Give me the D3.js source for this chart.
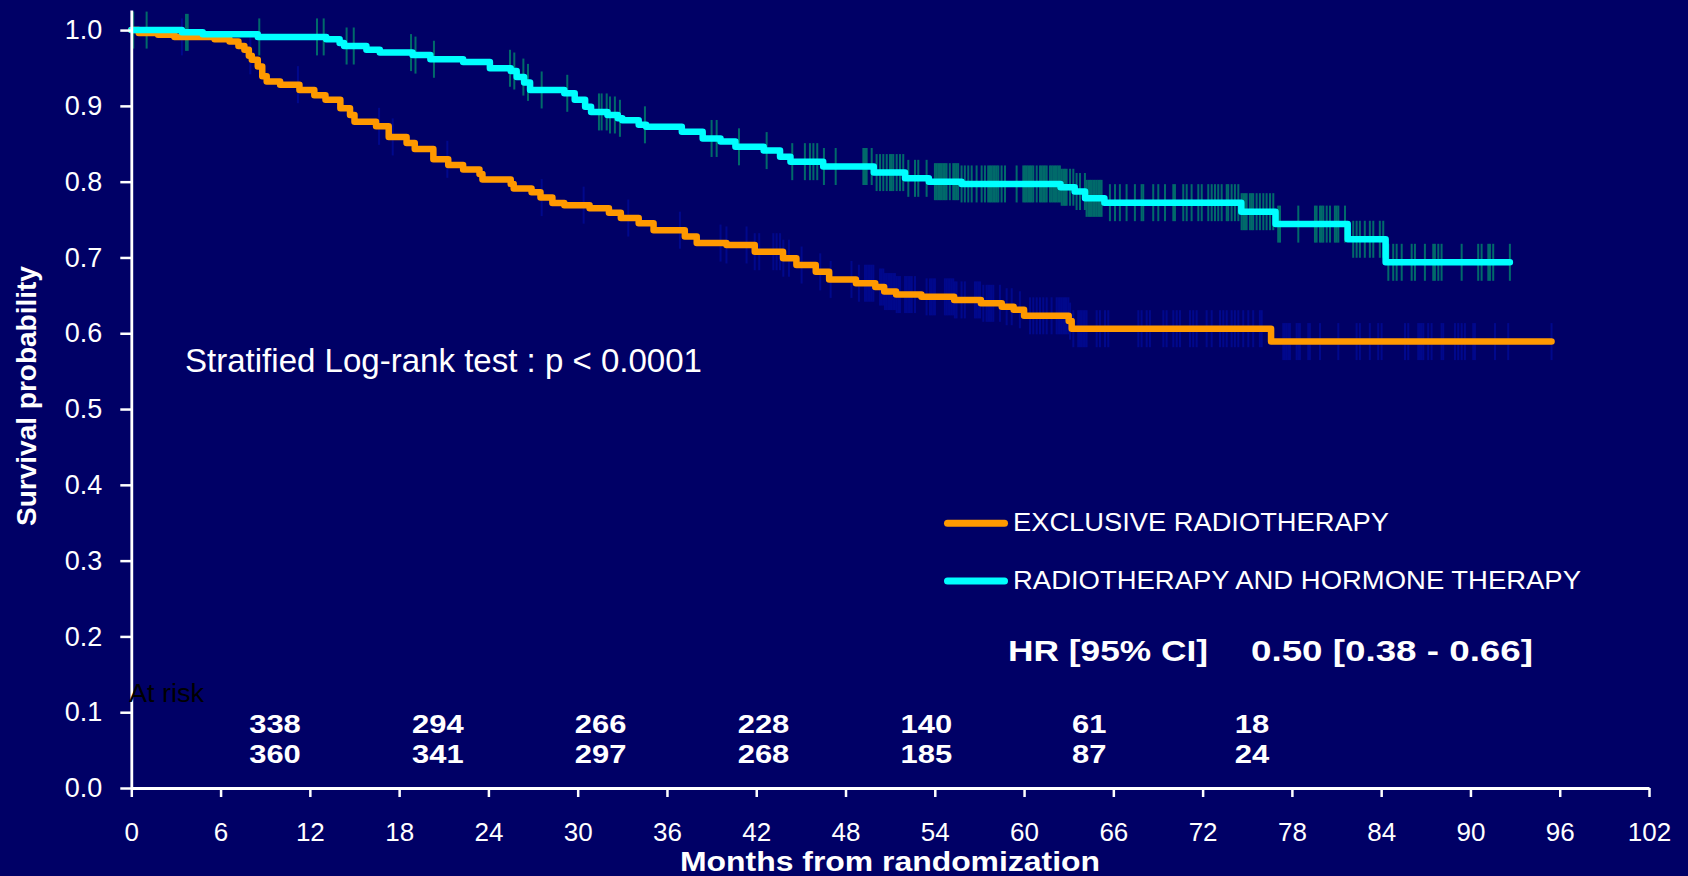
<!DOCTYPE html>
<html>
<head>
<meta charset="utf-8">
<script src="https://cdn.jsdelivr.net/npm/d3@7"></script>
<style>
  html, body { margin: 0; padding: 0; background: #000066; }
  svg { display: block; }
  text { font-family: "Liberation Sans", Arial, sans-serif; }
</style>
</head>
<body>
<svg id="chart" width="1688" height="876"></svg>
<script>
// Kaplan-Meier step points [month, survival] for each arm
const exclusiveSteps = [
  [0, 1.0], [0.5, 0.996], [1.8, 0.994], [2.9, 0.991], [5.6, 0.988], [6.6, 0.985],
  [7.2, 0.979], [7.6, 0.974], [7.9, 0.966], [8.1, 0.961], [8.5, 0.952], [8.8, 0.939],
  [9.1, 0.932], [10.0, 0.928], [11.3, 0.921], [12.3, 0.914], [13.05, 0.908], [14.05, 0.897],
  [14.7, 0.888], [15.0, 0.879], [16.45, 0.873], [17.3, 0.859], [18.5, 0.851], [19.05, 0.843],
  [20.3, 0.8295], [21.3, 0.822], [22.3, 0.816], [23.4, 0.810], [23.6, 0.803], [25.5, 0.797],
  [25.7, 0.791], [26.9, 0.786], [27.5, 0.779], [28.3, 0.772], [29.1, 0.769], [30.8, 0.765],
  [32.1, 0.759], [32.9, 0.752], [34.1, 0.745], [35.1, 0.736], [37.2, 0.7275], [38.0, 0.719],
  [40.0, 0.7165], [41.9, 0.7076], [43.8, 0.699], [44.7, 0.690], [46.0, 0.681], [46.9, 0.671],
  [48.7, 0.666], [50.0, 0.661], [50.6, 0.655], [51.4, 0.651], [53.1, 0.648], [55.3, 0.644],
  [57.1, 0.6395], [58.5, 0.635], [59.3, 0.631], [60.0, 0.623], [63.0, 0.616], [63.2, 0.606],
  [76.6, 0.589], [95.45, 0.589]
];
const combinedSteps = [
  [0, 1.0], [3.4, 0.997], [4.8, 0.9946], [8.5, 0.991], [13.1, 0.988], [14.0, 0.983],
  [14.3, 0.979], [15.8, 0.974], [16.7, 0.9703], [18.9, 0.967], [20.1, 0.9615], [22.3, 0.958],
  [24.1, 0.9496], [25.5, 0.946], [25.9, 0.938], [26.4, 0.931], [26.8, 0.921], [29.1, 0.9166],
  [29.8, 0.908], [30.5, 0.899], [30.9, 0.892], [32.0, 0.888], [32.7, 0.8836], [33.0, 0.881],
  [34.1, 0.875], [34.6, 0.8726], [37.0, 0.866], [38.4, 0.857], [39.6, 0.853], [40.6, 0.846],
  [42.5, 0.841], [43.6, 0.833], [44.3, 0.8264], [46.5, 0.820], [49.9, 0.812], [52.0, 0.8044],
  [53.6, 0.800], [55.8, 0.797], [62.45, 0.7926], [63.4, 0.787], [64.1, 0.778], [65.4, 0.7723],
  [74.6, 0.7604], [76.9, 0.744], [81.75, 0.724], [84.3, 0.6936], [92.65, 0.6936]
];

// Censoring times (months)
const exclusiveCensored = [
  3.4, 8.0, 11.2, 16.65, 17.57, 21.24, 27.58, 30.4, 33.4, 36.87, 39.6, 40.0, 41.35, 41.9, 42.2,
  43.15, 43.37, 43.6, 43.82, 44.2, 45.05, 46.3, 47.0, 48.4, 48.9,
  49.31, 49.42, 49.53, 49.64, 49.76, 49.87, 50.32, 50.43, 50.54, 50.65, 50.77, 50.88, 50.99,
  51.1, 51.21, 51.32, 51.44, 51.55, 51.66, 52.0, 52.11, 52.22, 52.33, 52.45, 52.67, 53.45,
  53.68, 53.79, 53.9, 54.01, 54.68, 54.79, 54.9, 55.01, 55.13, 55.24, 55.35, 55.46, 55.8, 56.02,
  56.7, 56.81, 56.92, 57.04, 57.26, 57.48, 57.59, 57.71, 57.82, 57.93, 58.38, 58.83, 59.17, 59.72,
  60.4, 60.62, 60.85, 61.07, 61.29, 61.52, 61.85, 62.19, 62.3, 62.41, 62.53, 62.64, 62.75, 62.86,
  62.98, 63.09, 63.31, 63.64, 63.76, 63.87, 63.98, 64.09, 64.2, 64.88, 65.1, 65.44, 65.66,
  67.68, 67.9, 68.24, 68.46, 69.36, 69.58, 70.03, 70.26, 70.48, 71.15, 71.37, 71.6,
  72.27, 72.61, 73.17, 73.39, 73.62, 73.95, 74.17, 74.4, 74.73, 75.07, 75.4, 75.85, 75.97,
  77.42, 77.53, 77.64, 77.76, 77.87, 78.32, 78.43, 78.54, 79.1, 79.21, 79.89, 81.12, 82.35, 82.57,
  83.24, 83.8, 84.03, 85.6, 85.82, 86.49, 86.61, 86.72, 86.83, 87.16, 87.39, 88.06, 88.17,
  88.96, 89.18, 89.41, 89.63, 90.19, 90.3, 91.65, 92.54, 95.45
];
const combinedCensored = [
  0.13, 1.03, 3.68, 3.79, 8.6, 12.48, 12.93, 14.47, 14.95, 18.8, 19.1, 20.34, 25.45, 25.74,
  26.35, 26.66, 27.58, 29.3, 31.43, 31.61, 31.95, 32.17, 32.5, 32.84, 34.52, 39.0, 39.34, 40.84,
  42.7, 44.42, 45.27, 45.61, 45.84, 46.1, 46.55, 47.34,
  49.2, 49.31, 49.42, 49.76, 50.09, 50.32, 50.54, 50.77, 50.99, 51.1, 51.21, 51.44, 51.66, 51.88,
  52.22, 52.67, 52.89, 53.45, 54.01, 54.12, 54.23, 54.35, 54.46, 54.57, 54.68, 54.79, 55.01,
  55.24, 55.35, 55.46, 55.57, 55.8, 56.02, 56.25, 56.48, 56.81, 57.15, 57.37, 57.59, 57.71,
  57.82, 57.93, 58.04, 58.16, 58.27, 58.49, 58.72, 59.5, 59.95, 60.06, 60.17, 60.28, 60.4,
  60.51, 60.62, 60.85, 61.07, 61.18, 61.29, 61.4, 61.52, 61.74, 61.85, 61.96, 62.08, 62.19,
  62.3, 62.41, 62.53, 62.64, 62.75, 62.86, 63.09, 63.31, 63.53, 63.76, 64.09, 64.2, 64.32,
  64.43, 64.54, 64.65, 64.76, 64.88, 64.99, 65.1, 65.21, 65.77, 66.11, 66.44, 66.89, 67.45,
  67.9, 68.01, 68.68, 69.02, 69.47, 70.03, 70.14, 70.7, 70.93, 71.26, 71.71, 71.94, 72.38,
  72.61, 72.83, 73.05, 73.28, 73.62, 73.72, 73.95, 74.17, 74.4, 74.62, 74.73, 74.85, 74.96,
  75.18, 75.3, 75.4, 75.63, 75.85, 76.08, 76.3, 76.53, 76.75, 77.08, 77.2, 78.43, 79.55, 79.66,
  79.89, 80.0, 80.11, 80.34, 80.56, 80.89, 81.0, 81.12, 81.57, 82.12, 82.35, 82.57, 82.9,
  83.24, 83.47, 83.91, 84.14, 84.48, 84.81, 85.04, 85.38, 86.05, 86.27, 86.94, 87.5, 87.61,
  87.84, 88.06, 89.41, 90.52, 90.75, 91.2, 91.31, 91.53, 92.65
];

// Axis ticks
const xTicks = [0, 6, 12, 18, 24, 30, 36, 42, 48, 54, 60, 66, 72, 78, 84, 90, 96, 102];
const yTicks = [0, 0.1, 0.2, 0.3, 0.4, 0.5, 0.6, 0.7, 0.8, 0.9, 1.0];

// Numbers at risk
const riskTimes = [12, 24, 36, 48, 60, 72, 84];
const riskExclusive = [338, 294, 266, 228, 140, 61, 18];
const riskCombined = [360, 341, 297, 268, 185, 87, 24];

const arms = [
  { name: "EXCLUSIVE RADIOTHERAPY", steps: exclusiveSteps, censored: exclusiveCensored,
    color: "#ff9900", tickColor: "#00088c" },
  { name: "RADIOTHERAPY AND HORMONE THERAPY", steps: combinedSteps, censored: combinedCensored,
    color: "#00ffff", tickColor: "#006a6a" }
];

const svg = d3.select("#chart");
const W = 1688, H = 876;
svg.append("rect").attr("width", W).attr("height", H).attr("fill", "#000066");

const x = d3.scaleLinear().domain([0, 102]).range([131.3, 1649]);
const y = d3.scaleLinear().domain([0, 1.0265]).range([788, 10]);

// survival value at time t for a step function
const bis = d3.bisector(d => d[0]).right;
function survAt(steps, t) {
  const i = bis(steps, t) - 1;
  return steps[Math.max(0, i)][1];
}

// censor marks behind curves
arms.forEach(arm => {
  svg.append("g")
    .selectAll("line")
    .data(arm.censored)
    .join("line")
    .attr("x1", d => x(d)).attr("x2", d => x(d))
    .attr("y1", d => y(survAt(arm.steps, d)) - 18.5)
    .attr("y2", d => y(survAt(arm.steps, d)) + 18.5)
    .attr("stroke", arm.tickColor)
    .attr("stroke-width", 2);
});

// survival curves
const line = d3.line().x(d => x(d[0])).y(d => y(d[1])).curve(d3.curveStepAfter);
arms.forEach(arm => {
  svg.append("path")
    .datum(arm.steps)
    .attr("d", line)
    .attr("fill", "none")
    .attr("stroke", arm.color)
    .attr("stroke-width", 6.5)
    .attr("stroke-linejoin", "round")
    .attr("stroke-linecap", "round");
});

// axes
const yAxis = d3.axisLeft(y).tickValues(yTicks).tickFormat(d3.format(".1f"))
  .tickSize(11).tickSizeOuter(0).tickPadding(18);
const gy = svg.append("g").attr("transform", `translate(${x(0)},0)`).call(yAxis);

const xAxis = d3.axisBottom(x).tickValues(xTicks).tickFormat(d3.format("d"))
  .tickSize(9).tickSizeOuter(0).tickPadding(26);
const gx = svg.append("g").attr("transform", `translate(0,${y(0)})`).call(xAxis);

[gy, gx].forEach(g => {
  g.select(".domain").attr("stroke", "#ffffff").attr("stroke-width", 2.8);
  g.selectAll(".tick line").attr("stroke", "#ffffff").attr("stroke-width", 2.5);
  g.selectAll(".tick text").attr("fill", "#ffffff")
    .attr("font-size", 27).attr("font-family", "Liberation Sans, Arial, sans-serif");
});
gx.selectAll(".tick text").attr("font-size", 26);

// axis titles
svg.append("text")
  .attr("transform", "translate(36,396) rotate(-90)")
  .attr("text-anchor", "middle")
  .attr("fill", "#ffffff").attr("font-size", 28).attr("font-weight", "bold")
  .text("Survival probability");

svg.append("text")
  .attr("x", 680).attr("y", 870.5)
  .attr("fill", "#ffffff").attr("font-size", 27).attr("font-weight", "bold")
  .attr("textLength", 420).attr("lengthAdjust", "spacingAndGlyphs")
  .text("Months from  randomization");

// test annotation
svg.append("text")
  .attr("x", 185).attr("y", 372)
  .attr("fill", "#ffffff").attr("font-size", 32.5)
  .attr("textLength", 517).attr("lengthAdjust", "spacingAndGlyphs")
  .text("Stratified Log-rank test : p < 0.0001");

// legend
const legendY = [523.3, 581];
const legendLen = [376, 568];
arms.forEach((arm, i) => {
  svg.append("line")
    .attr("x1", 947.5).attr("x2", 1004.5)
    .attr("y1", legendY[i]).attr("y2", legendY[i])
    .attr("stroke", arm.color).attr("stroke-width", 7).attr("stroke-linecap", "round");
  svg.append("text")
    .attr("x", 1013).attr("y", legendY[i] + 7.5)
    .attr("fill", "#ffffff").attr("font-size", 26)
    .attr("textLength", legendLen[i]).attr("lengthAdjust", "spacingAndGlyphs")
    .text(arm.name);
});

// hazard ratio
svg.append("text")
  .attr("x", 1008).attr("y", 661)
  .attr("fill", "#ffffff").attr("font-size", 30).attr("font-weight", "bold")
  .attr("textLength", 200).attr("lengthAdjust", "spacingAndGlyphs")
  .text("HR [95% CI]");
svg.append("text")
  .attr("x", 1251).attr("y", 661)
  .attr("fill", "#ffffff").attr("font-size", 30).attr("font-weight", "bold")
  .attr("textLength", 282).attr("lengthAdjust", "spacingAndGlyphs")
  .text("0.50 [0.38 - 0.66]");

// numbers at risk
svg.append("text")
  .attr("x", 129).attr("y", 701.5)
  .attr("fill", "#000000").attr("font-size", 25.5)
  .attr("textLength", 75).attr("lengthAdjust", "spacingAndGlyphs")
  .text("At risk");

const riskX = d3.scalePoint().domain(riskTimes).range([275, 1252]);
[[riskExclusive, 733], [riskCombined, 763]].forEach(([vals, by]) => {
  svg.append("g")
    .selectAll("text")
    .data(vals.map((v, i) => ({ v, t: riskTimes[i] })))
    .join("text")
    .each(function(d) {
      const s = String(d.v);
      const w = s.length * 17.2;
      d3.select(this)
        .attr("x", riskX(d.t) - w / 2).attr("y", by)
        .attr("textLength", w).attr("lengthAdjust", "spacingAndGlyphs");
    })
    .attr("fill", "#ffffff").attr("font-size", 26).attr("font-weight", "bold")
    .text(d => d.v);
});
</script>
</body>
</html>
